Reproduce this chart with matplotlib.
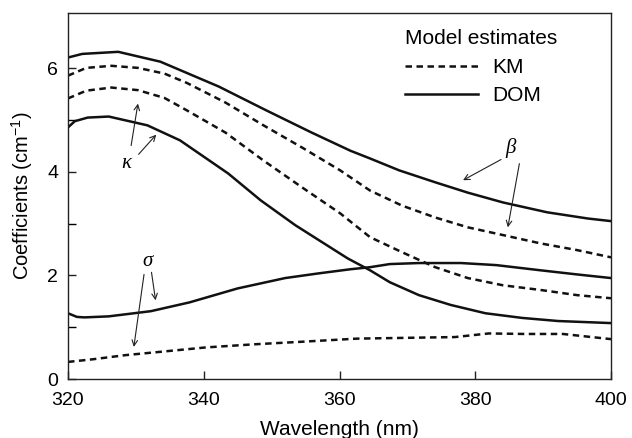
import matplotlib
matplotlib.use("Agg")
import matplotlib.pyplot as plt
from matplotlib.lines import Line2D

plt.rcParams['font.family'] = ['Liberation Sans', 'DejaVu Sans']
plt.rcParams['mathtext.fontset'] = 'custom'
plt.rcParams['mathtext.rm'] = 'Liberation Sans'
plt.rcParams['mathtext.it'] = 'Liberation Sans:italic'

# beta, DOM (solid, top)
beta_dom_x = [320, 322.1, 327.4, 333.6, 342.2, 349.2, 355.9, 361.6, 364.5, 368.8,
              374.1, 378.9, 384.1, 390.6, 396.6, 400]
beta_dom_y = [6.21, 6.28, 6.32, 6.13, 5.65, 5.19, 4.76, 4.41, 4.26, 4.03,
              3.80, 3.60, 3.41, 3.22, 3.10, 3.05]

# beta, KM (dashed, upper)
beta_km_x = [320, 322.7, 326.4, 330.3, 334.2, 337.5, 343.2, 348.8, 354.5, 360.1,
             364.5, 369.2, 374.1, 378.9, 384.1, 389.6, 395, 400]
beta_km_y = [5.86, 6.01, 6.05, 6.01, 5.90, 5.72, 5.34, 4.90, 4.47, 4.03,
             3.64, 3.35, 3.12, 2.93, 2.78, 2.62, 2.49, 2.35]

# kappa, KM (dashed, lower)
kappa_km_x = [320, 322.7, 326.4, 330.3, 334.2, 337.5, 343.2, 348.8, 354.5, 360.1,
              364.5, 369.2, 374.1, 378.9, 384.1, 389.6, 395, 400]
kappa_km_y = [5.42, 5.57, 5.63, 5.58, 5.43, 5.19, 4.76, 4.22, 3.70, 3.20,
              2.74, 2.45, 2.16, 1.95, 1.81, 1.72, 1.62, 1.56]

# kappa, DOM (solid)
kappa_dom_x = [320, 321, 322.9, 326, 331.7, 336.5, 343.6, 348.4, 353.5, 361.2,
               364.5, 367.4, 371.7, 376.4, 381.5, 386.9, 392.2, 400]
kappa_dom_y = [4.86, 4.98, 5.05, 5.07, 4.90, 4.61, 3.97, 3.45, 2.97, 2.33,
               2.10, 1.87, 1.62, 1.43, 1.27, 1.18, 1.12, 1.08]

# sigma, DOM (solid)
sigma_dom_x = [320, 321.3, 322.4, 326, 332.2, 337.9, 345.0, 352.0, 356.9, 361.6,
               364.5, 367.4, 371.7, 377.9, 383.1, 389.6, 395, 400]
sigma_dom_y = [1.27, 1.20, 1.19, 1.21, 1.31, 1.48, 1.75, 1.95, 2.04, 2.12,
               2.16, 2.22, 2.24, 2.24, 2.20, 2.10, 2.02, 1.95]

# sigma, KM (dashed)
sigma_km_x = [320, 323.6, 328.4, 333.2, 340.3, 347.4, 354.5, 362.6, 377.0, 382.0,
              387.3, 392.9, 400]
sigma_km_y = [0.33, 0.38, 0.46, 0.52, 0.61, 0.67, 0.72, 0.78, 0.81, 0.88,
              0.87, 0.87, 0.77]

solid = dict(color='#111111', lw=1.8, ls='-')
dashed = dict(color='#111111', lw=1.8, ls=(0, (2.6, 1.8)))

fig = plt.figure(figsize=(6.32, 4.38), dpi=100)
ax = fig.add_axes([0.1076, 0.1347, 0.8592, 0.8356])

ax.plot(beta_dom_x, beta_dom_y, **solid)
ax.plot(beta_km_x, beta_km_y, **dashed)
ax.plot(kappa_km_x, kappa_km_y, **dashed)
ax.plot(kappa_dom_x, kappa_dom_y, **solid)
ax.plot(sigma_dom_x, sigma_dom_y, **solid)
ax.plot(sigma_km_x, sigma_km_y, **dashed)

ax.set_xlim(320, 400)
ax.set_ylim(0, 7.07)
ax.set_xticks([320, 340, 360, 380, 400])
ax.set_yticks([0, 2, 4, 6])
ax.set_yticks([1, 3, 5], minor=True)
ax.tick_params(direction='in', length=6, width=1, labelsize=14, color='#222222')
ax.tick_params(which='minor', direction='in', length=6, width=1)
ax.tick_params(axis='x', pad=9)
ax.tick_params(axis='y', pad=7)
for s in ax.spines.values():
    s.set_linewidth(1.0)
    s.set_color('#222222')

ax.set_xlabel('Wavelength (nm)', fontsize=15, labelpad=8)
ax.set_ylabel('Coefficients (cm$^{-1}$)', fontsize=14.5, labelpad=9)

# annotations
greek = dict(family=['Liberation Serif', 'DejaVu Serif'], style='italic', fontsize=15,
             ha='center', va='center')
arrow = dict(arrowstyle='->', lw=0.8, color='#222222', shrinkA=0, shrinkB=0)

ax.text(328.6, 4.16, 'κ', **greek)
ax.annotate('', xy=(330.3, 5.32), xytext=(329.3, 4.51), arrowprops=arrow)
ax.annotate('', xy=(333.0, 4.72), xytext=(330.4, 4.34), arrowprops=arrow)

ax.text(385.2, 4.47, 'β', **greek)
ax.annotate('', xy=(378.2, 3.84), xytext=(383.8, 4.24), arrowprops=arrow)
ax.annotate('', xy=(384.8, 2.93), xytext=(386.5, 4.16), arrowprops=arrow)

ax.text(331.7, 2.27, 'σ', **greek)
ax.annotate('', xy=(329.7, 0.62), xytext=(331.2, 2.02), arrowprops=arrow)
ax.annotate('', xy=(332.9, 1.52), xytext=(332.3, 2.06), arrowprops=arrow)

handles = [Line2D([], [], **dashed), Line2D([], [], **solid)]
leg = ax.legend(handles, ['KM', 'DOM'], title='Model estimates', frameon=False,
                fontsize=15, title_fontsize=15, handlelength=3.5, handletextpad=0.7,
                labelspacing=0.45, borderpad=0, borderaxespad=0,
                alignment='left', loc='upper left', bbox_to_anchor=(0.62, 0.955))

fig.savefig('out.png', dpi=100)
